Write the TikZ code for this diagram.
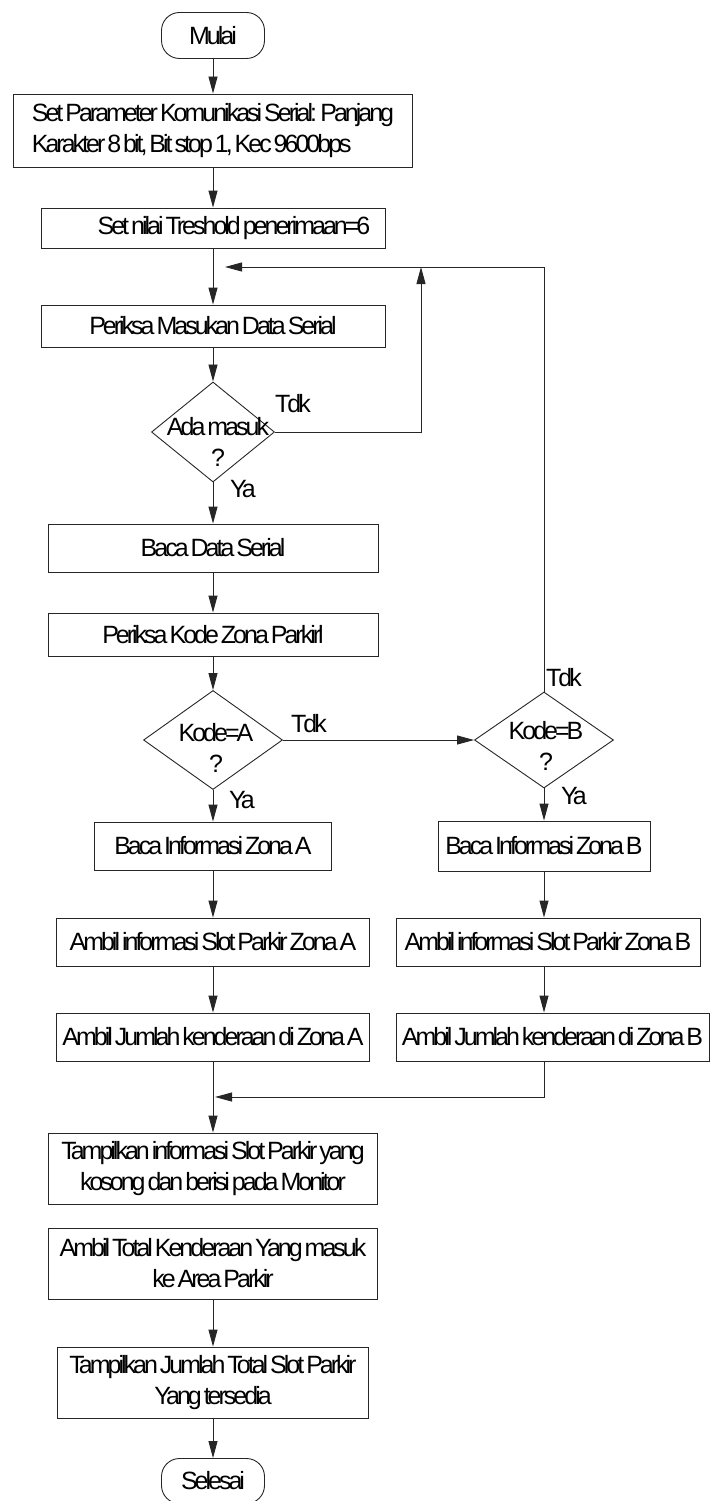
\documentclass[tikz,border=0pt]{standalone}
\usepackage{fontspec}
\newfontfamily\flowfont{Liberation Sans}[LetterSpace=-12,WordSpace=0.5]
\usetikzlibrary{shapes.geometric,arrows.meta}
\tikzset{
  flow/.style={draw=black!85, line width=0.9pt},
  arr/.style={flow, -{Triangle[length=17pt,width=9pt]}},
  proc/.style={flow, rectangle, inner sep=0pt, align=center},
  term/.style={flow, rectangle, rounded corners=18pt, inner sep=0pt, minimum width=103pt, minimum height=46pt},
  decision/.style={flow, diamond, inner sep=0pt},
  dtext/.style={inner sep=0pt, align=center},
  lbl/.style={inner sep=0pt}
}
\begin{document}
\begin{tikzpicture}[x=1pt,y=-1pt,font=\flowfont\fontsize{25}{31}\selectfont]
\useasboundingbox (0,0) rectangle (727,1501);

\node[term] (start) at (213,35.5) {Mulai};
\node[proc, minimum width=399pt, minimum height=73pt, align=left] (param) at (213,130.5) {Set Parameter Komunikasi Serial: Panjang\\Karakter 8 bit, Bit stop 1, Kec 9600bps};
\node[proc, minimum width=344pt, minimum height=40pt] (tresh) at (213,228) {\hspace*{42pt}Set nilai Treshold penerimaan=6};
\node[proc, minimum width=344pt, minimum height=42pt] (cek) at (213,326) {Periksa Masukan Data Serial};
\node[decision, minimum width=123pt, minimum height=100pt] (ada) at (213,432) {};
\node[dtext] (adaT) at (218,442) {Ada masuk\\?};
\node[proc, minimum width=330pt, minimum height=48pt] (baca) at (213,548) {Baca Data Serial};
\node[proc, minimum width=330pt, minimum height=43pt] (kode) at (213,634.5) {Periksa Kode Zona Parkirl};

\node[decision, minimum width=139pt, minimum height=99pt] (kodeA) at (213,740) {};
\node[dtext] (kodeAT) at (216,748) {Kode=A\\?};
\node[decision, minimum width=139pt, minimum height=96pt] (kodeB) at (544,740) {};
\node[dtext] (kodeBT) at (546,746) {Kode=B\\?};

\node[proc, minimum width=237pt, minimum height=48pt] (infoA) at (213,846) {Baca Informasi Zona A};
\node[proc, minimum width=212pt, minimum height=50pt] (infoB) at (544,846) {Baca Informasi Zona B};
\node[proc, minimum width=313pt, minimum height=48pt] (slotA) at (213,942) {Ambil informasi Slot Parkir Zona A};
\node[proc, minimum width=304pt, minimum height=48pt] (slotB) at (548,942) {Ambil informasi Slot Parkir Zona B};
\node[proc, minimum width=313pt, minimum height=48pt] (jmlA) at (213,1037) {Ambil Jumlah kenderaan di Zona A};
\node[proc, minimum width=313pt, minimum height=48pt] (jmlB) at (552.5,1037) {Ambil Jumlah kenderaan di Zona B};

\node[proc, minimum width=329pt, minimum height=71pt] (tampil) at (213,1168.5) {Tampilkan informasi Slot Parkir yang\\kosong dan berisi pada Monitor};
\node[proc, minimum width=329pt, minimum height=71pt] (total) at (213,1263.5) {Ambil Total Kenderaan Yang masuk\\ke Area Parkir};
\node[proc, minimum width=311pt, minimum height=71pt] (sisa) at (213,1382.5) {Tampilkan Jumlah Total Slot Parkir\\Yang tersedia};
\node[term, minimum height=45pt] (stop) at (213,1481) {Selesai};

\node[lbl] (tdk1) at (293,404) {Tdk};
\node[lbl] (ya1) at (243,489) {Ya};
\node[lbl] (tdk2) at (309,724) {Tdk};
\node[lbl] (ya2) at (242,800) {Ya};
\node[lbl] (tdk3) at (564,678) {Tdk};
\node[lbl] (ya3) at (574,796) {Ya};

\coordinate (loop) at (225,267);
\coordinate (loopUp) at (421,267);
\coordinate (merge) at (215,1097);

\draw[arr] (start) -- (param);
\draw[arr] (param) -- (tresh);
\draw[arr] (tresh) -- (cek);
\draw[arr] (cek) -- (ada);
\draw[arr] (ada.east) -| (loopUp);
\draw[arr] (ada) -- (baca);
\draw[arr] (baca) -- (kode);
\draw[arr] (kode) -- (kodeA);
\draw[arr] (kodeA) -- (kodeB);
\draw[arr] (kodeB.north) |- (loop);
\draw[arr] (kodeA) -- (infoA);
\draw[arr] (kodeB) -- (infoB);
\draw[arr] (infoA) -- (slotA);
\draw[arr] (slotA) -- (jmlA);
\draw[arr] (jmlA) -- (tampil);
\draw[arr] (infoB.south) -- (infoB.south |- slotB.north);
\draw[arr] (infoB.south |- slotB.south) -- (infoB.south |- jmlB.north);
\draw[arr] (infoB.south |- jmlB.south) |- (merge);
\draw[arr] (total) -- (sisa);
\draw[arr] (sisa) -- (stop);
\end{tikzpicture}
\end{document}
